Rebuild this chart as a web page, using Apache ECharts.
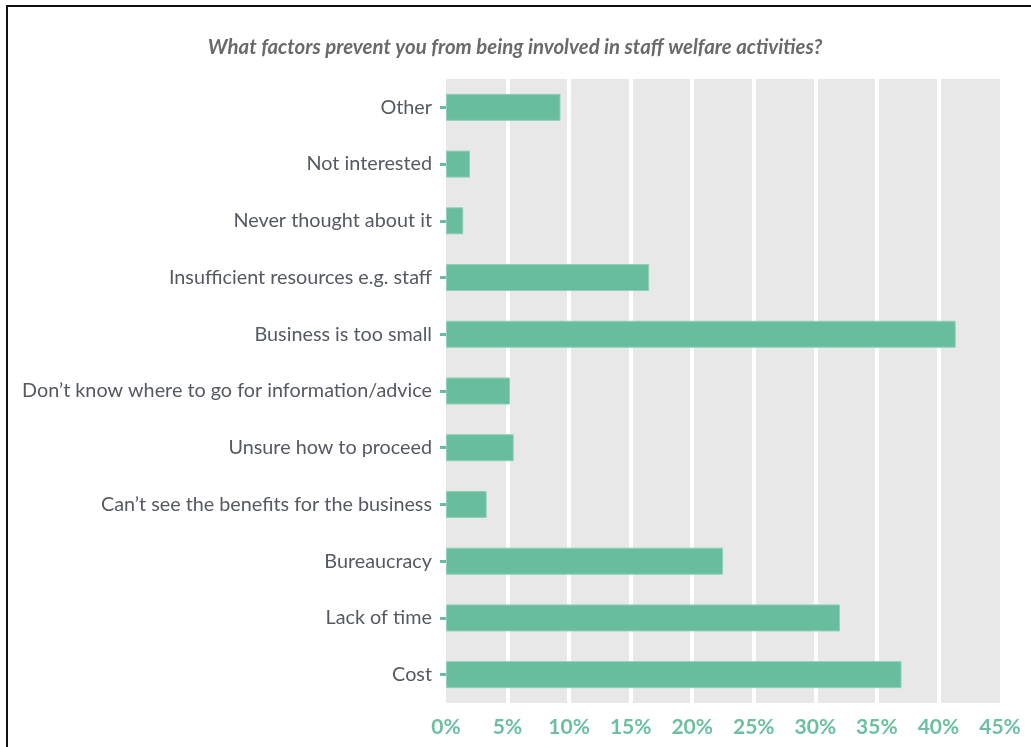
<!DOCTYPE html>
<html>
<head>
<meta charset="utf-8">
<script src="https://cdn.jsdelivr.net/npm/echarts@6/dist/echarts.min.js"></script>
<style>
html,body{margin:0;padding:0;background:#fff;}
#chart{width:1031px;height:747px;}
</style>
</head>
<body>
<div id="chart"></div>
<script>
const categories = [
  "Cost",
  "Lack of time",
  "Bureaucracy",
  "Can\u2019t see the benefits for the business",
  "Unsure how to proceed",
  "Don\u2019t know where to go for information/advice",
  "Business is too small",
  "Insufficient resources e.g. staff",
  "Never thought about it",
  "Not interested",
  "Other"
];
const values = [37.0, 32.0, 22.5, 3.3, 5.5, 5.2, 41.4, 16.5, 1.4, 1.95, 9.3];
const titleText = "What factors prevent you from being involved in staff welfare activities?";

const chart = echarts.init(document.getElementById('chart'));
chart.setOption({
  backgroundColor: '#fff',
  animation: false,
  title: {
    text: titleText,
    left: 510,
    top: 32,
    textAlign: 'center',
    textStyle: {
      fontFamily: 'Lato',
      fontSize: 20.4,
      fontStyle: 'italic',
      fontWeight: 'bold',
      color: '#6a6a6a'
    }
  },
  graphic: [{
    type: 'rect',
    shape: {x: 7, y: 6, width: 1100, height: 800},
    style: {fill: 'none', stroke: '#111', lineWidth: 2},
    silent: true
  }],
  grid: {
    left: 446, right: 31, top: 79, bottom: 44,
    show: true, backgroundColor: '#e7e8e7', borderWidth: 0
  },
  xAxis: {
    type: 'value',
    min: 0, max: 45, interval: 5,
    axisLine: {show: false},
    axisTick: {show: false},
    splitLine: {
      show: true,
      lineStyle: {
        width: 4,
        color: ['rgba(0,0,0,0)', '#fff', '#fff', '#fff', '#fff', '#fff', '#fff', '#fff', '#fff', 'rgba(0,0,0,0)']
      }
    },
    axisLabel: {
      formatter: '{value}%',
      margin: 14,
      fontFamily: 'Lato',
      fontSize: 21,
      fontWeight: 'bold',
      color: '#6cc0a0'
    }
  },
  yAxis: {
    type: 'category',
    data: categories,
    axisLine: {show: false},
    axisTick: {show: true, alignWithLabel: true, length: 6, lineStyle: {color: '#68bd9e', width: 3}},
    axisLabel: {
      margin: 14,
      fontFamily: 'Lato',
      fontSize: 19.8,
      color: '#555a60'
    }
  },
  series: [{
    type: 'bar',
    data: values,
    barWidth: 27,
    itemStyle: {color: '#68bd9e', borderColor: '#8fd0b6', borderWidth: 1}
  }]
});
</script>
</body>
</html>
